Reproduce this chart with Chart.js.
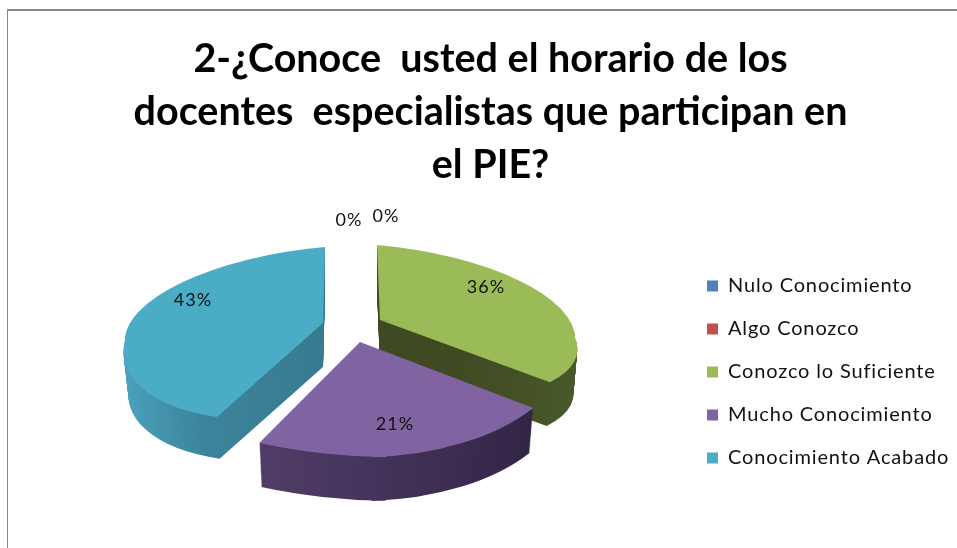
<!DOCTYPE html>
<html><head><meta charset="utf-8">
<style>html,body{margin:0;padding:0;background:#fff;width:957px;height:548px;overflow:hidden}
#f{position:absolute;left:7px;top:9px;width:960px;height:560px;box-sizing:border-box;border-top:2px solid #868686;border-left:1.5px solid #868686}
canvas{position:absolute;left:0;top:0}</style>
<script src="https://cdn.jsdelivr.net/npm/chart.js@4/dist/chart.umd.js"></script>
</head><body><div id="f"></div><canvas id="c" width="957" height="548"></canvas>
<script>
const titleLines = ["2-¿Conoce  usted el horario de los","docentes  especialistas que participan en","el PIE?"];
const categories = ["Nulo Conocimiento","Algo Conozco","Conozco lo Suficiente","Mucho Conocimiento","Conocimiento Acabado"];
const percentValues = [0,0,36,21,43];
const colors = ["#4f81bd","#c0504d","#9bbb59","#8064a2","#4bacc6"];

// Presentation of the tilted, exploded pie. Each slice may be split at a fraction of its
// sweep; each piece has its own linear map so the slice follows the perspective of the view.
const sliceLook = [
  {apex:[349,300],pieces:[],depth:0,shrink:1,label:[349,220],wall:["#fff"]},
  {apex:[386,300],pieces:[],depth:0,shrink:1,label:[386,216],wall:["#fff"]},
  {apex:[380,320],pieces:[{to:90/129.6,m:[195,17,3,75]},{to:1,m:[195,17,31,77]}],depth:45,shrink:.98,
   label:[486,287],wall:["#3f4a23","#3f4a23","#3f4a23","#4a5a29"]},
  {apex:[360,342],pieces:[{to:2/3,m:[210,-9.5,18,115]},{to:1,m:[275,7,18,115]}],depth:46,shrink:.98,
   label:[395,424],wall:["#5f4b78","#44335a","#2d2140"]},
  {apex:[323,323],pieces:[{to:64.8/154.8,m:[198,-17,-24,96]},{to:1,m:[198,-17,-2,76]}],depth:44,shrink:.975,
   label:[193,300],wall:["#4ca2bd","#3c849c","#387a90","#387a90","#387a90"]}
];

const tiltPlugin = {
  id:'tilt',
  beforeDatasetsDraw(chart){
    const ctx = chart.ctx, arcs = chart.getDatasetMeta(0).data;
    const lap = 0.03;
    const paint = (arc,i,d,fill)=>{
      const L = sliceLook[i], R = arc.outerRadius, saved = arc.options;
      const s0 = arc.startAngle, e0 = arc.endAngle, sweep = e0 - s0;
      const k = 1 - (1 - L.shrink) * (L.depth ? d / L.depth : 0);
      let bg = fill;
      if (Array.isArray(fill)) {
        bg = ctx.createLinearGradient(arc.x-R,0,arc.x+R,0);
        fill.forEach((c,n)=>bg.addColorStop(n/(fill.length-1),c));
      }
      const o = Object.create(saved);
      o.backgroundColor = bg; o.borderWidth = 0; o.borderColor = 'transparent';
      arc.options = o;
      let from = 0;
      L.pieces.forEach((p,n)=>{
        ctx.save();
        ctx.translate(L.apex[0], L.apex[1]+d);
        ctx.transform(k*p.m[0]/R, k*p.m[1]/R, k*p.m[2]/R, k*p.m[3]/R, 0, 0);
        ctx.translate(-arc.x, -arc.y);
        arc.startAngle = s0 + sweep*from - (n ? lap : 0);
        arc.endAngle = s0 + sweep*p.to + (n < L.pieces.length-1 ? lap : 0);
        arc.draw(ctx);
        ctx.restore();
        from = p.to;
      });
      arc.startAngle = s0; arc.endAngle = e0; arc.options = saved;
    };
    // back-to-front order so nearer slices cover farther ones
    [4,2,3].forEach(i=>{
      const arc = arcs[i];
      for (let d = sliceLook[i].depth; d>0; d--) paint(arc,i,d,sliceLook[i].wall);
      paint(arc,i,0,colors[i]);
    });
    ctx.save();
    ctx.font = '18px Lato'; ctx.fillStyle = '#111'; ctx.letterSpacing = '1px';
    ctx.textAlign = 'center'; ctx.textBaseline = 'middle';
    percentValues.forEach((v,i)=>ctx.fillText(v+'%', sliceLook[i].label[0], sliceLook[i].label[1]));
    ctx.restore();
    return false;
  },
  afterLayout(chart){
    const l = chart.legend, pad = l.options.labels.padding;
    l.left = 707 - pad; l.top = 276 - pad;
    if (!l._spaced) {
      const draw = l.draw;
      l.draw = function(){
        chart.ctx.letterSpacing = '0.85px';
        draw.call(this);
        chart.ctx.letterSpacing = '0px';
      };
      l._spaced = true;
    }
  }
};

new Chart(document.getElementById('c'),{
  type:'pie',
  data:{labels:categories,datasets:[{data:percentValues,backgroundColor:colors,borderWidth:0}]},
  plugins:[tiltPlugin],
  options:{
    responsive:false,animation:false,
    layout:{padding:{top:33,left:24}},
    plugins:{
      title:{display:true,text:titleLines,color:'#000',
        font:{family:'Lato',size:39.5,weight:'bold',lineHeight:1.342},padding:0},
      tooltip:{enabled:false},
      legend:{position:'right',align:'start',
        labels:{boxWidth:11,boxHeight:11,padding:23,color:'#111',font:{family:'Lato',size:20}}}
    }
  }
});
</script></body></html>
